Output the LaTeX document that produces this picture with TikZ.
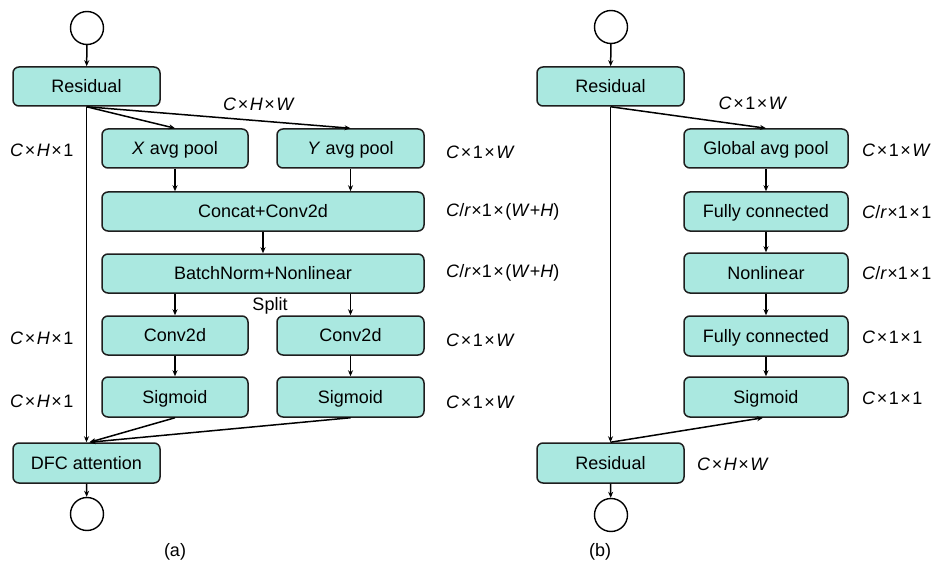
\documentclass[tikz,border=0pt]{standalone}
\usepackage{fontspec}
\setmainfont{Liberation Sans}
\usetikzlibrary{arrows.meta,calc}
\definecolor{boxfill}{RGB}{170,232,224}
\definecolor{boxline}{RGB}{30,30,30}
\newcommand{\tms}{\kern1.5pt×\kern1.5pt}
\begin{document}
\begin{tikzpicture}[x=1pt,y=-1pt,
  font=\fontsize{18}{21}\selectfont,
  box/.style={draw=boxline,line width=1.5pt,fill=boxfill,rounded corners=6pt,inner sep=0pt,minimum height=39pt,align=center,text depth=1pt},
  endc/.style={circle,draw=black,line width=1.4pt,minimum size=33pt,inner sep=0pt,fill=white},
  arr/.style={line width=1.5pt,-{Stealth[length=6pt,width=5pt]}},
  dim/.style={anchor=west,inner sep=0pt}]
\useasboundingbox (0,0) rectangle (935,567);
% ---------- (a) ----------
\node[endc] (c1) at (87,28) {};
\node[box,minimum width=147pt] (res1) at (86.5,86.5) {Residual};
\node[box,minimum width=146pt] (xap) at (175,148.5) {\textit{X} avg pool};
\node[box,minimum width=147pt] (yap) at (350.5,148.5) {\textit{Y} avg pool};
\node[box,minimum width=322pt] (cat) at (263,211.5) {Concat+Conv2d};
\node[box,minimum width=322pt] (bn) at (263,273.5) {BatchNorm+Nonlinear};
\node[inner sep=0pt] (split) at (270,306) {Split};
\node[box,minimum width=146pt] (cl) at (175,335.5) {Conv2d};
\node[box,minimum width=147pt] (cr) at (350.5,335.5) {Conv2d};
\node[box,minimum width=146pt,minimum height=40pt] (sl) at (175,397) {Sigmoid};
\node[box,minimum width=147pt,minimum height=40pt] (sr) at (350.5,397) {Sigmoid};
\node[box,minimum width=147pt,minimum height=40pt] (dfc) at (86.5,463) {DFC attention};
\node[endc] (c2) at (87,514) {};
\node (la) at (175,552) {(a)};
\coordinate (dfcin) at ($(dfc.north)+(3,0)$);

\draw[arr] (c1) -- (res1);
\draw[arr] (res1.south) -- (xap.north);
\draw[arr] (res1.south) -- (yap.north);
\draw[arr] (res1.south) -- (dfc.north);
\draw[arr] (xap.south) -- (xap.south |- cat.north);
\draw[arr] (yap.south) -- (yap.south |- cat.north);
\draw[arr] (cat.south) -- (bn.north);
\draw[arr] (cl.north |- bn.south) -- (cl.north);
\draw[arr] (cr.north |- bn.south) -- (cr.north);
\draw[arr] (cl.south) -- (sl.north);
\draw[arr] (cr.south) -- (sr.north);
\draw[arr] (sl.south) -- (dfcin);
\draw[arr] (sr.south) -- (dfcin);
\draw[arr] (dfc.south) -- (c2);

\node[dim] (a1) at (10,150) {\textit{C}\tms\textit{H}\tms1};
\node[dim] (a2) at (10,338) {\textit{C}\tms\textit{H}\tms1};
\node[dim] (a3) at (10,401) {\textit{C}\tms\textit{H}\tms1};
\node[inner sep=0pt] (a4) at (259,104) {\textit{C}\tms\textit{H}\tms\textit{W}};
\node[dim] (a5) at (446,152) {\textit{C}\tms1\tms\textit{W}};
\node[dim] (a6) at (446,212) {\textit{C}/\textit{r}\kern0.5pt×1\tms(\textit{W}+\textit{H})};
\node[dim] (a7) at (446,273) {\textit{C}/\textit{r}\kern0.5pt×1\tms(\textit{W}+\textit{H})};
\node[dim] (a8) at (446,340) {\textit{C}\tms1\tms\textit{W}};
\node[dim] (a9) at (446,402) {\textit{C}\tms1\tms\textit{W}};

% ---------- (b) ----------
\node[endc] (c3) at (611,27) {};
\node[box,minimum width=147pt] (res2) at (610.5,86.5) {Residual};
\node[box,minimum width=164pt] (gap) at (766,148.5) {Global avg pool};
\node[box,minimum width=164pt] (fc1) at (766,211.5) {Fully connected};
\node[box,minimum width=164pt,minimum height=40pt] (nl) at (766,273) {Nonlinear};
\node[box,minimum width=164pt,minimum height=40pt] (fc2) at (766,336) {Fully connected};
\node[box,minimum width=164pt,minimum height=40pt] (sg) at (766,397) {Sigmoid};
\node[box,minimum width=147pt,minimum height=40pt] (res3) at (610.5,463) {Residual};
\node[endc] (c4) at (611,515) {};
\node (lb) at (600,552) {(b)};
\coordinate (sgin) at ($(sg.south)+(-3,0)$);

\draw[arr] (c3) -- (res2);
\draw[arr] (res2.south) -- (gap.north);
\draw[arr] (res2.south) -- (res3.north);
\draw[arr] (gap) -- (fc1);
\draw[arr] (fc1) -- (nl);
\draw[arr] (nl) -- (fc2);
\draw[arr] (fc2) -- (sg);
\draw[arr] (res3.north) -- (sgin);
\draw[arr] (res3.south) -- (c4);

\node[inner sep=0pt] (b1) at (753,103) {\textit{C}\tms1\tms\textit{W}};
\node[dim] (b2) at (862,150) {\textit{C}\tms1\tms\textit{W}};
\node[dim] (b3) at (862,212) {\textit{C}/\textit{r}\kern0.5pt×1\tms1};
\node[dim] (b4) at (862,273) {\textit{C}/\textit{r}\kern0.5pt×1\tms1};
\node[dim] (b5) at (862,337) {\textit{C}\tms1\tms1};
\node[dim] (b6) at (862,398) {\textit{C}\tms1\tms1};
\node[dim] (b7) at (697,464) {\textit{C}\tms\textit{H}\tms\textit{W}};
\end{tikzpicture}
\end{document}
